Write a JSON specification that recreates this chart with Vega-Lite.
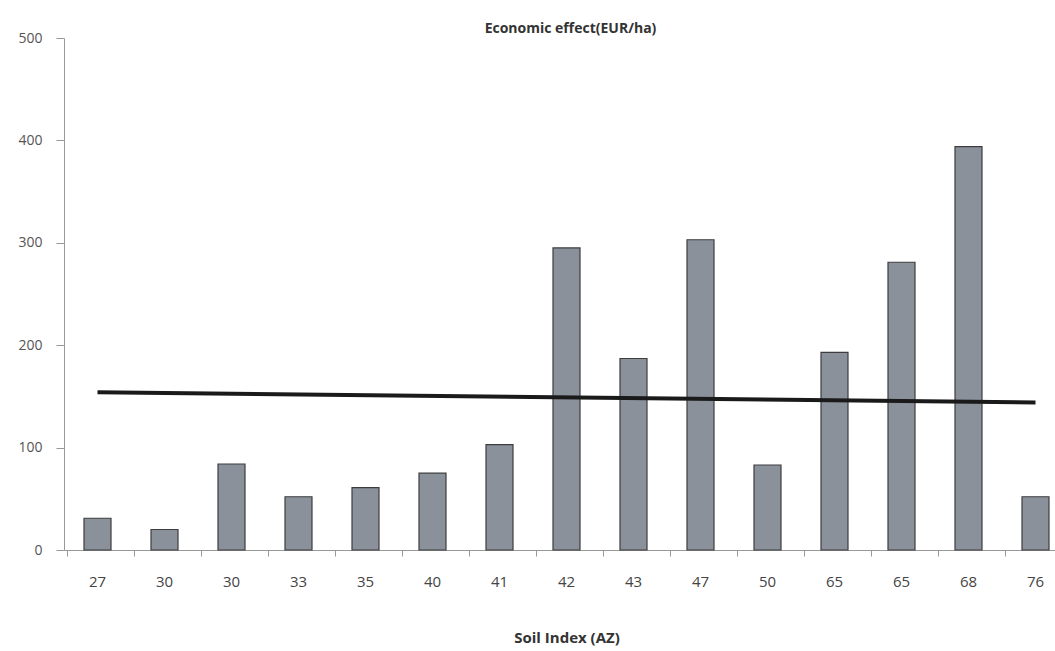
{
  "$schema": "https://vega.github.io/schema/vega-lite/v6.json",
  "autosize": {"type": "none"},
  "width": 1005,
  "height": 512,
  "padding": {"left": 64, "top": 38, "right": 0, "bottom": 101},
  "background": "white",
  "config": {"view": {"stroke": null}, "font": "Open Sans"},
  "title": {"text": "Economic effect(EUR/ha)", "fontSize": 14, "fontWeight": "bold", "color": "#333333", "font": "Open Sans", "offset": -5, "dx": 4},
  "datasets": {
    "bars": [
      {"pos": 1, "soil": "27", "effect": 31},
      {"pos": 2, "soil": "30", "effect": 20},
      {"pos": 3, "soil": "30", "effect": 84},
      {"pos": 4, "soil": "33", "effect": 52},
      {"pos": 5, "soil": "35", "effect": 61},
      {"pos": 6, "soil": "40", "effect": 75},
      {"pos": 7, "soil": "41", "effect": 103},
      {"pos": 8, "soil": "42", "effect": 295},
      {"pos": 9, "soil": "43", "effect": 187},
      {"pos": 10, "soil": "47", "effect": 303},
      {"pos": 11, "soil": "50", "effect": 83},
      {"pos": 12, "soil": "65", "effect": 193},
      {"pos": 13, "soil": "65", "effect": 281},
      {"pos": 14, "soil": "68", "effect": 394},
      {"pos": 15, "soil": "76", "effect": 52}
    ],
    "trend": [
      {"pos": 1, "effect": 154},
      {"pos": 15, "effect": 144}
    ]
  },
  "layer": [
    {
      "data": {"name": "bars"},
      "mark": {"type": "bar", "size": 27, "fill": "#8b919b", "stroke": "#3d3d3d", "strokeWidth": 1.2},
      "encoding": {
        "x": {
          "field": "pos", "type": "ordinal", "title": "Soil Index (AZ)",
          "scale": {"domain": [1,2,3,4,5,6,7,8,9,10,11,12,13,14,15]},
          "axis": {
            "labelAngle": 0,
            "labelExpr": "['27','30','30','33','35','40','41','42','43','47','50','65','65','68','76'][datum.value-1]",
            "labelFontSize": 15, "labelColor": "#444444", "labelFont": "Open Sans",
            "labelPadding": 18, "tickSize": 6, "tickColor": "#999999", "domainColor": "#999999",
            "bandPosition": 0,
            "titleFontSize": 15, "titleFontWeight": "bold", "titleColor": "#333333", "titlePadding": 41
          }
        },
        "y": {
          "field": "effect", "type": "quantitative",
          "scale": {"domain": [0, 500]},
          "axis": {
            "title": null, "values": [0,100,200,300,400,500], "grid": false,
            "labelFontSize": 14, "labelColor": "#555555", "labelPadding": 14, "tickSize": 8,
            "tickColor": "#999999", "domainColor": "#999999"
          }
        }
      }
    },
    {
      "data": {"name": "trend"},
      "mark": {"type": "line", "color": "#1a1a1a", "strokeWidth": 4},
      "encoding": {
        "x": {"field": "pos", "type": "ordinal"},
        "y": {"field": "effect", "type": "quantitative"}
      }
    }
  ]
}
